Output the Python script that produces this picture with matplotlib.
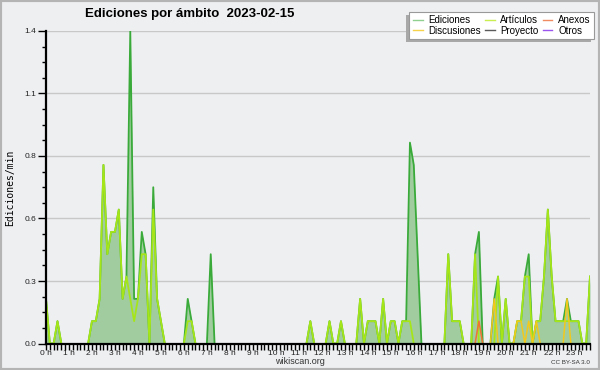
import numpy as np
import matplotlib
matplotlib.use("Agg")
import matplotlib.pyplot as plt
from matplotlib.ticker import FixedLocator, MultipleLocator
from matplotlib.patches import Rectangle
from matplotlib.lines import Line2D

# ediciones por minuto, intervalos de 10 min (una fila por hora)
ediciones = [
    0.2, 0, 0, 0.1, 0, 0,
    0, 0, 0, 0, 0, 0,
    0.1, 0.1, 0.2, 0.8, 0.4, 0.5,
    0.5, 0.6, 0.2, 0.3, 1.4, 0.2,
    0.2, 0.5, 0.4, 0, 0.7, 0.2,
    0.1, 0, 0, 0, 0, 0,
    0, 0.2, 0.1, 0, 0, 0,
    0, 0.4, 0, 0, 0, 0,
    0, 0, 0, 0, 0, 0,
    0, 0, 0, 0, 0, 0,
    0, 0, 0, 0, 0, 0,
    0, 0, 0, 0.1, 0, 0,
    0, 0, 0.1, 0, 0, 0.1,
    0, 0, 0, 0, 0.2, 0,
    0.1, 0.1, 0.1, 0, 0.2, 0,
    0.1, 0.1, 0, 0.1, 0.1, 0.9,
    0.8, 0.4, 0, 0, 0, 0,
    0, 0, 0, 0.4, 0.1, 0.1,
    0.1, 0, 0, 0, 0.4, 0.5,
    0, 0, 0, 0.2, 0.3, 0,
    0.2, 0, 0, 0.1, 0.1, 0.3,
    0.4, 0, 0.1, 0.1, 0.3, 0.6,
    0.3, 0.1, 0.1, 0.1, 0.2, 0.1,
    0.1, 0.1, 0, 0, 0.3,
]
articulos = [
    0.2, 0, 0, 0.1, 0, 0,
    0, 0, 0, 0, 0, 0,
    0.1, 0.1, 0.2, 0.8, 0.4, 0.5,
    0.5, 0.6, 0.2, 0.3, 0.2, 0.1,
    0.2, 0.4, 0.4, 0, 0.6, 0.2,
    0.1, 0, 0, 0, 0, 0,
    0, 0.1, 0.1, 0, 0, 0,
    0, 0, 0, 0, 0, 0,
    0, 0, 0, 0, 0, 0,
    0, 0, 0, 0, 0, 0,
    0, 0, 0, 0, 0, 0,
    0, 0, 0, 0.1, 0, 0,
    0, 0, 0.1, 0, 0, 0.1,
    0, 0, 0, 0, 0.2, 0,
    0.1, 0.1, 0.1, 0, 0.2, 0,
    0.1, 0.1, 0, 0.1, 0.1, 0.1,
    0, 0, 0, 0, 0, 0,
    0, 0, 0, 0.4, 0.1, 0.1,
    0.1, 0, 0, 0, 0.4, 0,
    0, 0, 0, 0, 0.3, 0,
    0.2, 0, 0, 0.1, 0.1, 0.3,
    0.3, 0, 0.1, 0.1, 0.3, 0.6,
    0.3, 0.1, 0.1, 0.1, 0.1, 0.1,
    0.1, 0.1, 0, 0, 0.3,
]
n = len(ediciones)
anexos = [0.0] * n
anexos[113] = 0.1
discusiones = [0.0] * n
for k, v in [(117, 0.2), (123, 0.1), (124, 0.1), (126, 0.1), (128, 0.1), (136, 0.2)]:
    discusiones[k] = v
proyecto = [0.0] * n
otros = [0.0] * n

horas = list(range(24))
yticks = [0, 0.28, 0.56, 0.84, 1.12, 1.4]

bg = "#eeeff1"
plt.rcParams["font.family"] = ["Liberation Sans", "DejaVu Sans"]


def sin_ceros(v):
    # oculta los tramos a cero (quedan bajo el eje)
    v = np.asarray(v, dtype=float)
    z = v == 0
    izq = np.r_[True, z[:-1]]
    der = np.r_[z[1:], True]
    return np.ma.masked_where(z & izq & der, v)


fig = plt.figure(figsize=(6, 3.7), dpi=100, facecolor=bg)
ax = fig.add_axes([46 / 600, 26.5 / 370, 544 / 600, 312.5 / 370])
ax.set_facecolor("none")

x = np.arange(n) / 6.0
ax.fill_between(x, 0, ediciones, color="#a0cca0", lw=0, zorder=1)
ax.plot(x, sin_ceros(otros), color="#9a55ee", lw=1.1, zorder=2)
ax.plot(x, sin_ceros(proyecto), color="#5a5a5a", lw=1.1, zorder=2)
ax.plot(x, sin_ceros(ediciones), color="#3aab3a", lw=1.3, zorder=3)
ax.plot(x, sin_ceros(articulos), color="#a6e619", lw=1.3, zorder=4)
ax.plot(x, sin_ceros(discusiones), color="#f2c81c", lw=1.1, zorder=5)
ax.plot(x, sin_ceros(anexos), color="#f07234", lw=1.1, zorder=5)

ax.set_xlim(0, (n - 1) / 6.0)
ax.set_ylim(0, 1.4)

for s in ["top", "right"]:
    ax.spines[s].set_visible(False)
for s in ["left", "bottom"]:
    ax.spines[s].set_linewidth(1.6)
    ax.spines[s].set_color("black")
    ax.spines[s].set_zorder(10)

ax.yaxis.set_major_locator(FixedLocator(yticks))
ax.set_yticklabels(["%.1f" % v for v in yticks])
ax.yaxis.set_minor_locator(MultipleLocator(0.07))
ax.xaxis.set_major_locator(FixedLocator(horas))
ax.set_xticklabels(["%d h" % h for h in horas])
ax.xaxis.set_minor_locator(MultipleLocator(1 / 6))
ax.tick_params(axis="both", which="both", direction="out", color="black",
               labelsize=6, labelcolor="#222222")
ax.tick_params(axis="y", which="major", length=6, width=1, pad=1)
ax.tick_params(axis="y", which="minor", length=3, width=1)
ax.tick_params(axis="x", which="major", length=4, width=1, pad=1)
ax.tick_params(axis="x", which="minor", length=4, width=1)
ax.yaxis.grid(True, which="major", color="#c8c8c8", lw=1)
ax.set_axisbelow(True)

fig.text(85 / 600, 1 - 14 / 370, "Ediciones por ámbito  2023-02-15",
         fontsize=9.5, fontweight="bold", va="center", ha="left")
fig.text(10 / 600, 1 - 188 / 370, "Ediciones/min", rotation=90,
         family="DejaVu Sans Mono", fontsize=7, va="center", ha="center")
fig.text(0.5, 1 - 361 / 370, "wikiscan.org", fontsize=6.5,
         ha="center", va="center", color="#333333")
fig.text(590 / 600, 1 - 362 / 370, "CC BY-SA 3.0", fontsize=4.5,
         ha="right", va="center", color="#333333")

handles = [
    Line2D([], [], color="#8fd08f", lw=1),
    Line2D([], [], color="#f6d24a", lw=1),
    Line2D([], [], color="#c8ee50", lw=1),
    Line2D([], [], color="#5a5a5a", lw=1),
    Line2D([], [], color="#f08a60", lw=1),
    Line2D([], [], color="#9a55ee", lw=1),
]
labels = ["Ediciones", "Discusiones", "Artículos", "Proyecto", "Anexos", "Otros"]
leg = fig.legend(handles, labels, ncol=3, loc="upper right",
                 bbox_to_anchor=(594 / 600, 1 - 12 / 370),
                 frameon=True, fancybox=False, framealpha=1,
                 facecolor="white", edgecolor="#999999", fontsize=7,
                 handlelength=1.0, handletextpad=0.6, columnspacing=0.4,
                 labelspacing=0.05, borderpad=0.35, borderaxespad=0)
leg.get_frame().set_linewidth(0.8)
leg.set_zorder(20)

# sombra del cuadro de leyenda (abajo a la izquierda)
fig.canvas.draw()
bb = leg.get_window_extent()
fig.patches.append(Rectangle(((bb.x0 - 3) / 600, (bb.y0 - 3) / 370),
                             bb.width / 600, bb.height / 370,
                             transform=fig.transFigure, facecolor="#a8a8a8",
                             edgecolor="none", zorder=15))

fig.patches.append(Rectangle((0, 0), 1, 1, transform=fig.transFigure,
                             fill=False, edgecolor="#b4b4b4", lw=3, zorder=30))

fig.savefig("out.png", dpi=100, facecolor=bg)
